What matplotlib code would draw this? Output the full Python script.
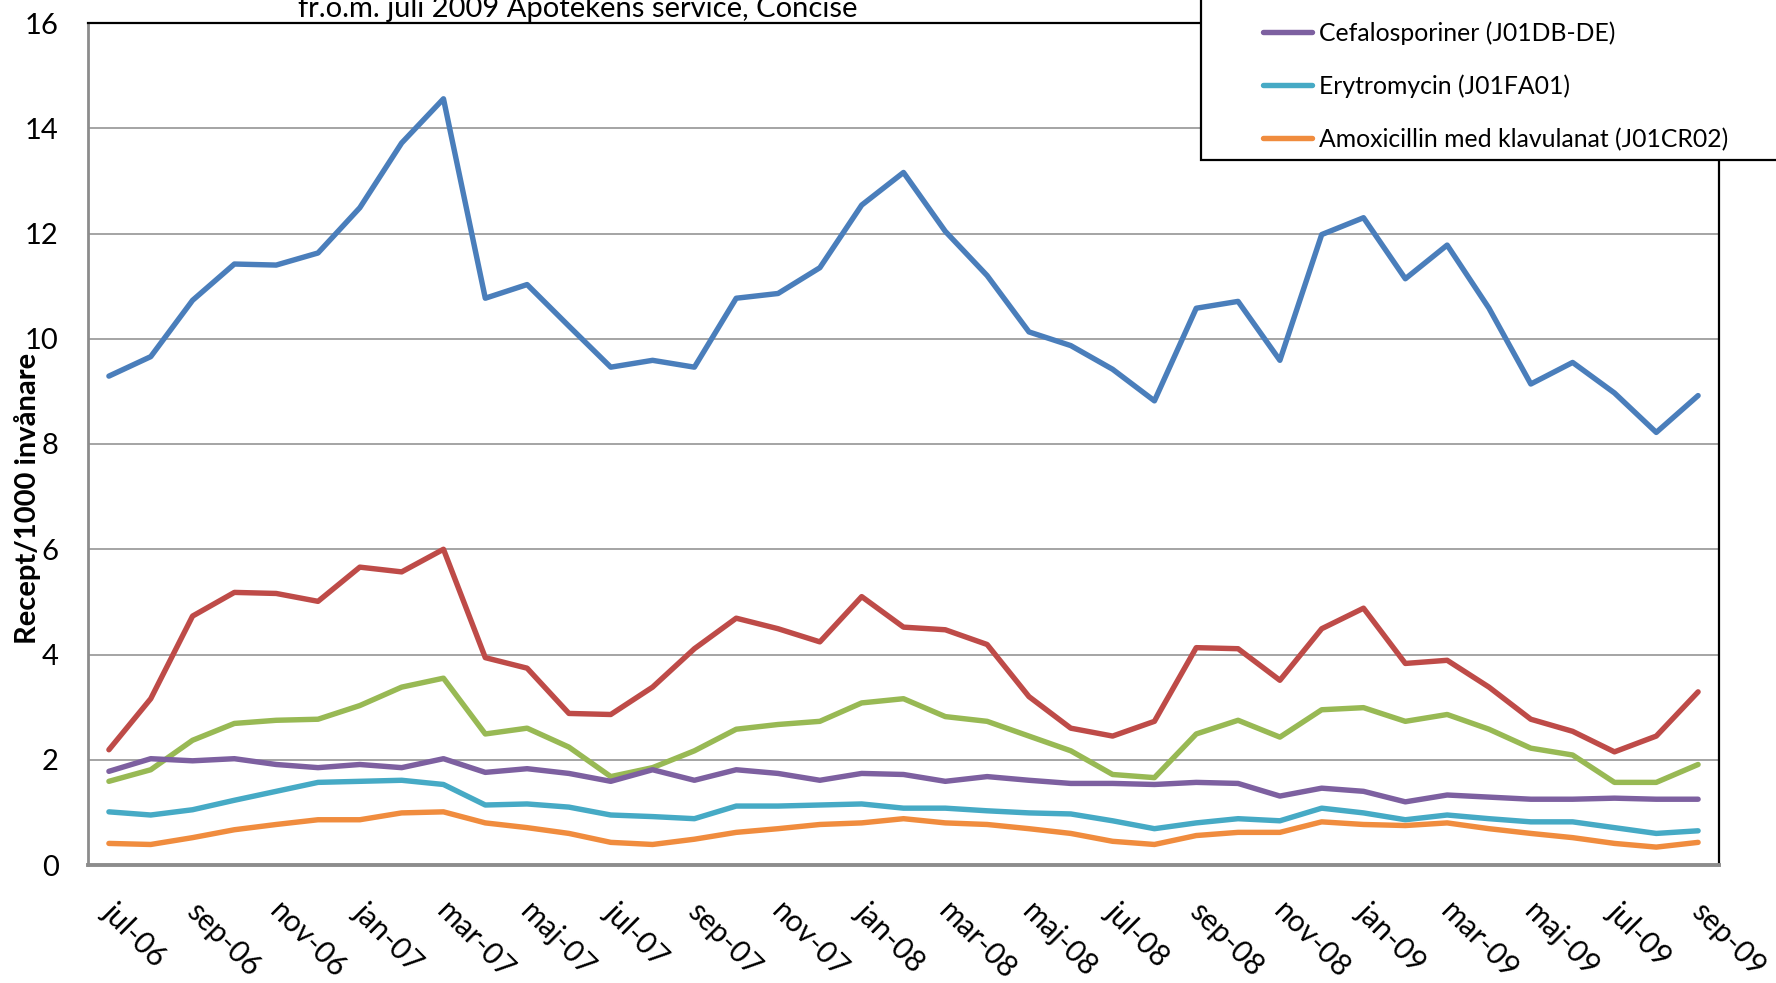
import matplotlib
matplotlib.use('Agg')
import matplotlib.pyplot as plt
import matplotlib.transforms as mtrans
from matplotlib.patches import Rectangle
from matplotlib.lines import Line2D

plt.rcParams['font.family'] = ['Lato', 'DejaVu Sans']

# månader jul-06 .. sep-09
month_names = ['jan', 'feb', 'mar', 'apr', 'maj', 'jun', 'jul', 'aug', 'sep', 'okt', 'nov', 'dec']
months = []
for yr in range(6, 10):
    for m in month_names:
        months.append(f'{m}-{yr:02d}')
months = months[6:6 + 39]

blue = [9.29, 9.66, 10.73, 11.42, 11.40, 11.63, 12.49, 13.72, 14.56, 10.77, 11.03, 10.24, 9.46,
        9.59, 9.46, 10.77, 10.86, 11.35, 12.54, 13.16, 12.04, 11.20, 10.13, 9.87, 9.42, 8.82,
        10.58, 10.71, 9.59, 11.98, 12.30, 11.14, 11.78, 10.58, 9.14, 9.55, 8.97, 8.22, 8.92]
red = [2.19, 3.16, 4.73, 5.18, 5.16, 5.01, 5.66, 5.57, 6.00, 3.94, 3.74, 2.88, 2.86,
       3.38, 4.11, 4.69, 4.49, 4.24, 5.10, 4.52, 4.47, 4.19, 3.20, 2.60, 2.45, 2.73,
       4.13, 4.11, 3.51, 4.49, 4.88, 3.83, 3.89, 3.38, 2.77, 2.54, 2.15, 2.45, 3.29]
green = [1.59, 1.81, 2.37, 2.69, 2.75, 2.77, 3.03, 3.38, 3.55, 2.49, 2.60, 2.24, 1.68,
         1.85, 2.17, 2.58, 2.67, 2.73, 3.08, 3.16, 2.82, 2.73, 2.45, 2.17, 1.72, 1.66,
         2.49, 2.75, 2.43, 2.95, 2.99, 2.73, 2.86, 2.58, 2.22, 2.09, 1.57, 1.57, 1.91]
cefalosporiner = [1.78, 2.02, 1.98, 2.02, 1.91, 1.85, 1.91, 1.85, 2.02, 1.76, 1.83, 1.74, 1.59,
                  1.81, 1.61, 1.81, 1.74, 1.61, 1.74, 1.72, 1.59, 1.68, 1.61, 1.55, 1.55, 1.53,
                  1.57, 1.55, 1.31, 1.46, 1.40, 1.20, 1.33, 1.29, 1.25, 1.25, 1.27, 1.25, 1.25]
erytromycin = [1.01, 0.95, 1.05, 1.23, 1.40, 1.57, 1.59, 1.61, 1.53, 1.14, 1.16, 1.10, 0.95,
               0.92, 0.88, 1.12, 1.12, 1.14, 1.16, 1.08, 1.08, 1.03, 0.99, 0.97, 0.84, 0.69,
               0.80, 0.88, 0.84, 1.08, 0.99, 0.86, 0.95, 0.88, 0.82, 0.82, 0.71, 0.60, 0.65]
amoxi_klav = [0.41, 0.39, 0.52, 0.67, 0.77, 0.86, 0.86, 0.99, 1.01, 0.80, 0.71, 0.60, 0.43,
              0.39, 0.49, 0.62, 0.69, 0.77, 0.80, 0.88, 0.80, 0.77, 0.69, 0.60, 0.45, 0.39,
              0.56, 0.62, 0.62, 0.82, 0.77, 0.75, 0.80, 0.69, 0.60, 0.52, 0.41, 0.34, 0.43]

legend_labels = ['Cefalosporiner (J01DB-DE)', 'Erytromycin (J01FA01)',
                 'Amoxicillin med klavulanat (J01CR02)']
colors = ['#4A7EBB', '#BE4B48', '#98B954', '#7D60A0', '#46AAC5', '#F08C3E']

fig = plt.figure(figsize=(17.76, 9.83), dpi=100)
ax = fig.add_axes([88 / 1776, 1 - 865 / 983, (1719 - 88) / 1776, (865 - 23) / 983])

x = list(range(len(months)))
for s, c in zip([blue, red, green, cefalosporiner, erytromycin, amoxi_klav], colors):
    ax.plot(x, s, color=c, lw=3.9, solid_joinstyle='round', solid_capstyle='round')

ax.set_xlim(-0.5, len(months) - 0.5)
ax.set_ylim(0, 16)
ax.set_yticks(range(0, 17, 2))
ax.yaxis.grid(True, color='#8c8c8c', lw=1.1)
ax.set_axisbelow(True)
ax.tick_params(axis='both', length=0, labelsize=21)
ax.tick_params(axis='y', pad=21)

ax.set_xticks(x[::2])
ax.set_xticklabels(months[::2], rotation=-45, ha='left', va='top', fontsize=21.5)
ax.tick_params(axis='x', pad=23)
off = mtrans.ScaledTranslation(-12 / 100, 0, fig.dpi_scale_trans)
for lbl in ax.get_xticklabels():
    lbl.set_transform(lbl.get_transform() + off)

for side in ['left', 'bottom']:
    ax.spines[side].set_color('#8c8c8c')
ax.spines['left'].set_linewidth(2)
ax.spines['bottom'].set_linewidth(2.8)
for side in ['top', 'right']:
    ax.spines[side].set_color('black')
    ax.spines[side].set_linewidth(1.6)

fig.text(28 / 1776, 1 - 498 / 983, 'Recept/1000 invånare', rotation=90, ha='center', va='center',
         fontsize=21, fontweight='bold')
fig.text(578 / 1776, 1 - 17 / 983, 'fr.o.m. juli 2009 Apotekens service, Concise',
         ha='center', va='baseline', fontsize=21)

# legendruta (överkanten ligger utanför bilden)
fig.patches.append(Rectangle((1201 / 1776, 1 - 160 / 983), 0.4, 0.3, transform=fig.transFigure,
                             facecolor='white', edgecolor='black', lw=1.6, zorder=3))
handles = [Line2D([], [], color=c, lw=3.9, solid_capstyle='round') for c in colors[3:]]
fig.legend(handles, legend_labels, loc='upper left', bbox_to_anchor=(1263 / 1776, 1 - 21 / 983),
           frameon=False, fontsize=17.8, borderpad=0, borderaxespad=0, handlelength=2.0,
           handletextpad=0.25, labelspacing=1.2)

fig.savefig('out.png', dpi=100)
